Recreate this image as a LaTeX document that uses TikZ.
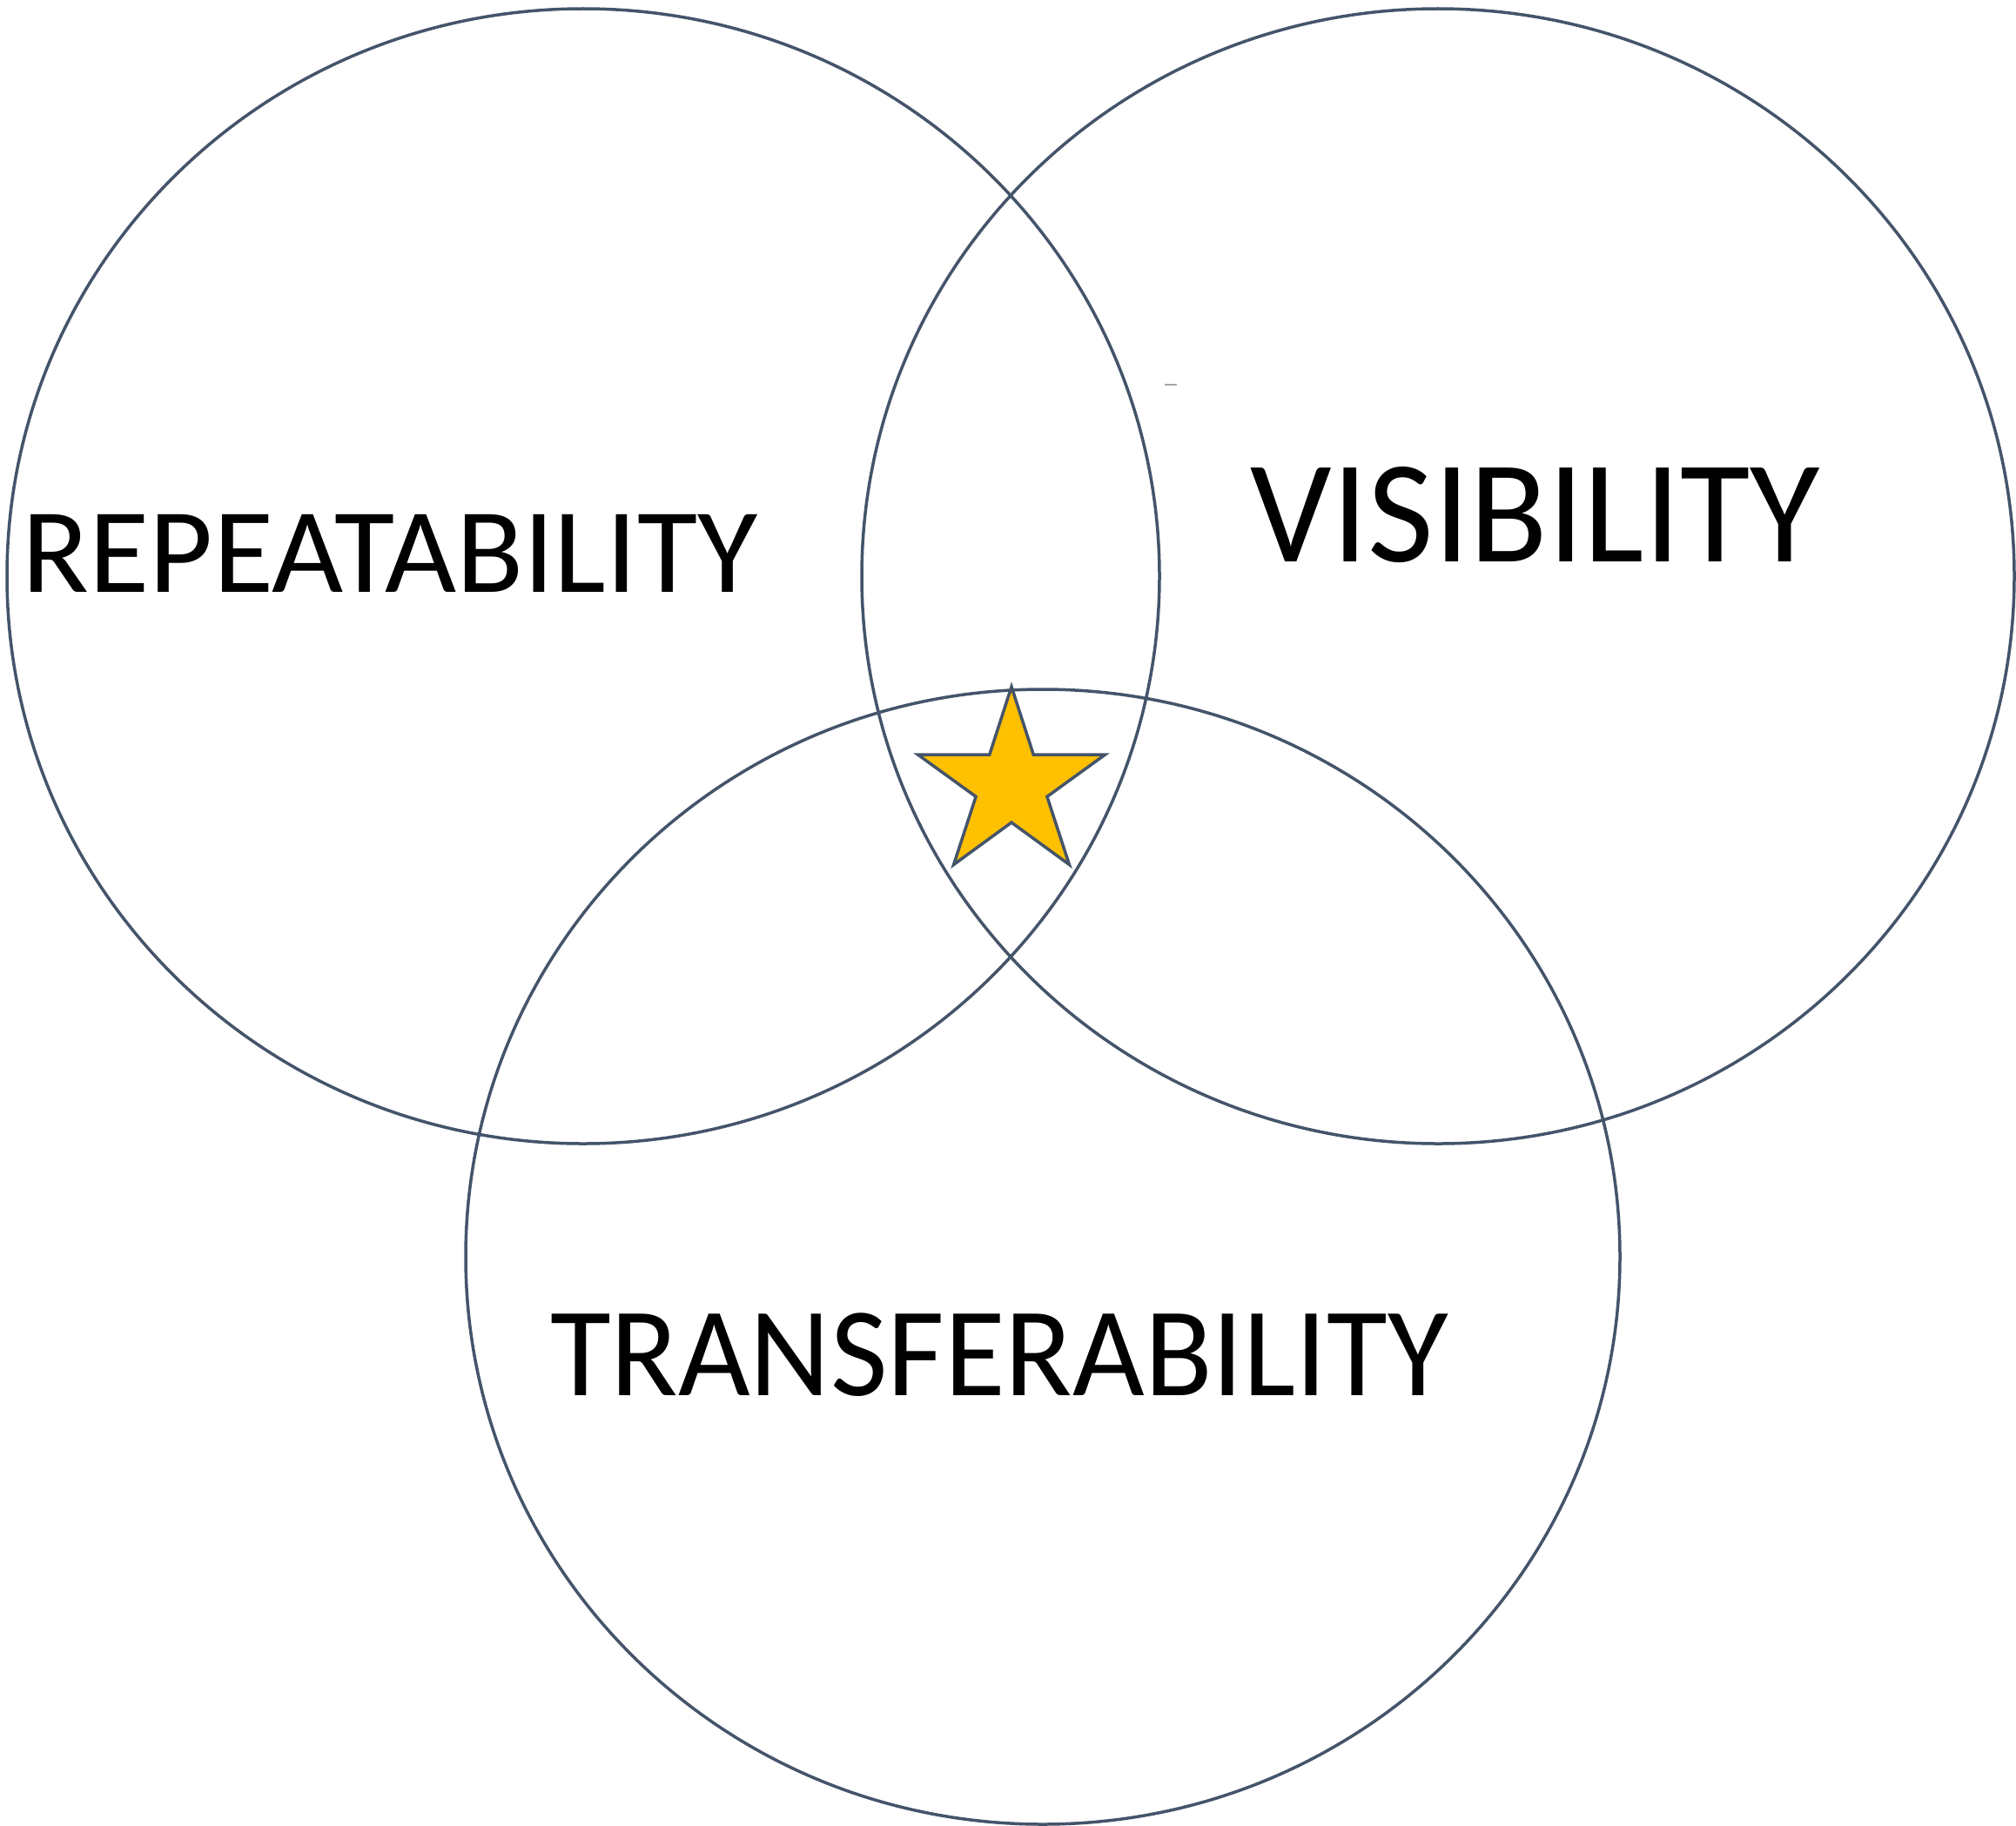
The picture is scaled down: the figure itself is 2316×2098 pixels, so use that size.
\documentclass[tikz,border=0pt]{standalone}
\usepackage{graphicx}
\usepackage{fontspec}
\setmainfont{Carlito}
\definecolor{edge}{HTML}{44546A}
\definecolor{gold}{HTML}{FFC000}
\begin{document}
\begin{tikzpicture}[x=1pt,y=-1pt,
  ring/.style={draw=edge,line width=3.5pt},
  starstyle/.style={draw=edge,fill=gold,line width=3.5pt,line join=miter},
  label/.style={inner sep=0pt,anchor=base,text=black}]
\useasboundingbox[fill=white] (0,0) rectangle (2316,2098);
\coordinate (cl) at (670,662);
\coordinate (cr) at (1652,662);
\coordinate (cb) at (1198,1444);
\coordinate (s) at (1162,902);
\draw[ring] (cl) ellipse [x radius=662, y radius=652];
\draw[ring] (cr) ellipse [x radius=662, y radius=652];
\draw[ring] (cb) ellipse [x radius=663, y radius=652];
\begin{scope}[shift={(s)}]
\draw[starstyle] (-90:113) -- (-54:43) -- (-18:113) -- (18:43) -- (54:113) -- (90:43) -- (126:113) -- (162:43) -- (198:113) -- (234:43) -- cycle;
\end{scope}
\node[label,font=\fontsize{139}{139}\selectfont] (rep) at (448,680) {\scalebox{1.02}[1]{REPEATABILITY}};
\node[label,font=\fontsize{168}{168}\selectfont] (vis) at (1764,645) {\scalebox{0.98}[1]{VISIBILITY}};
\node[label,font=\fontsize{146}{146}\selectfont] (tra) at (1148,1603) {\scalebox{0.978}[1]{TRANSFERABILITY}};
\draw[gray!70,line width=2pt] (1338,442) -- (1352,442);
\end{tikzpicture}
\end{document}
